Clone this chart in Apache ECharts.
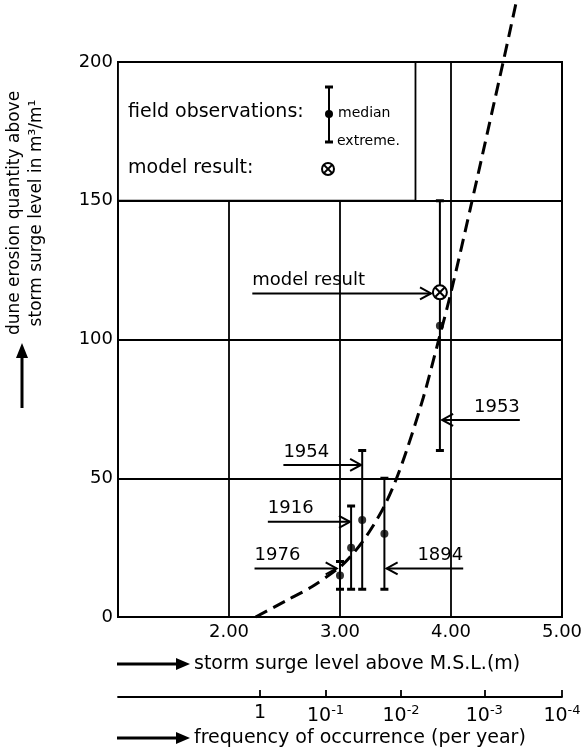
<!DOCTYPE html>
<html>
<head>
<meta charset="utf-8">
<script src="https://cdn.jsdelivr.net/npm/echarts@6/dist/echarts.min.js"></script>
<style>
html, body { margin: 0; padding: 0; background: #fff; }
#chart { width: 585px; height: 750px; }
</style>
</head>
<body>
<div id="chart"></div>
<script>
// dune erosion quantity vs storm surge level
const FONT = 'DejaVu Sans';

// dashed curve
const curveSurge = [2.24, 2.52, 2.75, 3.0, 3.1, 3.2, 3.3, 3.4, 3.5, 3.6, 3.75, 3.89, 4.0, 4.19, 4.47, 4.59];
const curveErosion = [0, 6, 11, 18, 22, 27, 33, 40, 49, 60, 79, 100, 117, 150, 200, 222];

// field observations: median and extremes
const obsYears = ['1976', '1916', '1954', '1894', '1953'];
const obsSurge = [3.0, 3.1, 3.2, 3.4, 3.9];
const obsLow = [10, 10, 10, 10, 60];
const obsMedian = [15, 25, 35, 30, 105];
const obsHigh = [20, 40, 60, 50, 150];

// model result
const modelSurge = [3.9];
const modelErosion = [117];

// second scale: frequency of occurrence, located on the surge level axis
const freqSurge = [2.28, 2.87, 3.55, 4.30, 5.0];
const freqLabels = ['{n|1}', '{n|10}{s|-1}', '{n|10}{s|-2}', '{n|10}{s|-3}', '{n|10}{s|-4}'];

// call-out arrows: label, arrow tip (surge, erosion), tail surge
const noteLabels = ['model result', '1953', '1954', '1916', '1976', '1894'];
const noteTipX = [3.82, 3.92, 3.19, 3.09, 2.97, 3.42];
const noteTipY = [116.6, 71, 54.8, 34.3, 17.5, 17.5];
const noteTailX = [2.21, 4.62, 2.49, 2.35, 2.23, 4.11];

// legend box corners (surge, erosion)
const legendBox = [[1, 200, 3.68, 150]];

const myChart = echarts.init(document.getElementById('chart'));

const option = {
  backgroundColor: '#fff',
  animation: false,
  textStyle: { fontFamily: FONT, color: '#000' },
  grid: {
    left: 118, right: 23, top: 62, bottom: 133,
    show: true, borderColor: '#000', borderWidth: 2,
    outerBoundsMode: 'none'
  },
  xAxis: [
    {
      type: 'value', min: 1, max: 5, interval: 1,
      axisLine: { show: true, lineStyle: { color: '#000', width: 2 } },
      axisTick: { show: false },
      splitLine: { show: true, lineStyle: { color: '#000', width: 1.8 } },
      axisLabel: {
        color: '#000', fontSize: 18, fontFamily: FONT, margin: 6,
        formatter: v => (v === 1 ? '' : v.toFixed(2))
      }
    },
    {
      type: 'value', min: 1, max: 5, position: 'bottom', offset: 80,
      axisLine: { show: true, onZero: false, lineStyle: { color: '#000', width: 1.8 } },
      axisTick: { show: true, inside: true, length: 7, customValues: freqSurge, lineStyle: { color: '#000', width: 1.8 } },
      splitLine: { show: false },
      axisLabel: {
        color: '#000', fontSize: 19, fontFamily: FONT, margin: 7,
        customValues: freqSurge,
        formatter: v => {
          const i = freqSurge.findIndex(p => Math.abs(p - v) < 1e-6);
          return i < 0 ? '' : freqLabels[i];
        },
        rich: {
          n: { fontSize: 19, fontFamily: FONT, color: '#000' },
          s: { fontSize: 13, fontFamily: FONT, color: '#000', verticalAlign: 'top', padding: [0, 0, 11, 0] }
        }
      }
    }
  ],
  yAxis: {
    type: 'value', min: 0, max: 200, interval: 50,
    axisLine: { show: true, lineStyle: { color: '#000', width: 2 } },
    axisTick: { show: false },
    splitLine: { show: true, lineStyle: { color: '#000', width: 1.8 } },
    axisLabel: { color: '#000', fontSize: 18, fontFamily: FONT, margin: 5 }
  },
  graphic: [
    {
      type: 'text', x: 26, y: 213, rotation: Math.PI / 2,
      style: {
        text: 'dune erosion quantity above\nstorm surge level in m³/m¹',
        font: '17px ' + FONT, fill: '#000', align: 'center', verticalAlign: 'middle', lineHeight: 22
      }
    },
    { type: 'line', shape: { x1: 22, y1: 408, x2: 22, y2: 354 }, style: { stroke: '#000', lineWidth: 3 } },
    { type: 'polygon', shape: { points: [[16, 358], [22, 343], [28, 358]] }, style: { fill: '#000' } },
    { type: 'line', shape: { x1: 117, y1: 664, x2: 180, y2: 664 }, style: { stroke: '#000', lineWidth: 3 } },
    { type: 'polygon', shape: { points: [[176, 658], [190, 664], [176, 670]] }, style: { fill: '#000' } },
    {
      type: 'text', x: 194, y: 664,
      style: { text: 'storm surge level above M.S.L.(m)', font: '19px ' + FONT, fill: '#000', verticalAlign: 'middle' }
    },
    { type: 'line', shape: { x1: 117, y1: 738, x2: 180, y2: 738 }, style: { stroke: '#000', lineWidth: 3 } },
    { type: 'polygon', shape: { points: [[176, 732], [190, 738], [176, 744]] }, style: { fill: '#000' } },
    {
      type: 'text', x: 194, y: 738,
      style: { text: 'frequency of occurrence (per year)', font: '19px ' + FONT, fill: '#000', verticalAlign: 'middle' }
    }
  ],
  series: [
    {
      // legend box
      type: 'custom', z: 3,
      data: legendBox,
      renderItem: (params, api) => {
        const p0 = api.coord([api.value(0), api.value(1)]);
        const p1 = api.coord([api.value(2), api.value(3)]);
        const x = p0[0], y = p0[1];
        const bx = x + 211;
        return {
          type: 'group',
          children: [
            { type: 'rect', shape: { x: x, y: y, width: p1[0] - x, height: p1[1] - y }, style: { fill: '#fff', stroke: '#000', lineWidth: 1.8 } },
            { type: 'text', x: x + 10, y: y + 50, style: { text: 'field observations:', font: '19px ' + FONT, fill: '#000', verticalAlign: 'middle' } },
            { type: 'line', shape: { x1: bx, y1: y + 25, x2: bx, y2: y + 80 }, style: { stroke: '#000', lineWidth: 2 } },
            { type: 'line', shape: { x1: bx - 4, y1: y + 25, x2: bx + 4, y2: y + 25 }, style: { stroke: '#000', lineWidth: 3 } },
            { type: 'line', shape: { x1: bx - 4, y1: y + 80, x2: bx + 4, y2: y + 80 }, style: { stroke: '#000', lineWidth: 3 } },
            { type: 'circle', shape: { cx: bx, cy: y + 52, r: 4 }, style: { fill: '#000' } },
            { type: 'text', x: bx + 9, y: y + 51, style: { text: 'median', font: '14px ' + FONT, fill: '#000', verticalAlign: 'middle' } },
            { type: 'text', x: bx + 8, y: y + 79, style: { text: 'extreme.', font: '14px ' + FONT, fill: '#000', verticalAlign: 'middle' } },
            { type: 'text', x: x + 10, y: y + 106, style: { text: 'model result:', font: '19px ' + FONT, fill: '#000', verticalAlign: 'middle' } },
            { type: 'circle', shape: { cx: bx - 1, cy: y + 107, r: 6 }, style: { fill: '#fff', stroke: '#000', lineWidth: 2 } },
            { type: 'line', shape: { x1: bx - 5, y1: y + 103, x2: bx + 3, y2: y + 111 }, style: { stroke: '#000', lineWidth: 1.8 } },
            { type: 'line', shape: { x1: bx - 5, y1: y + 111, x2: bx + 3, y2: y + 103 }, style: { stroke: '#000', lineWidth: 1.8 } }
          ]
        };
      }
    },
    {
      // dashed curve
      type: 'line', z: 4, clip: false, smooth: 0.3, showSymbol: false, symbol: 'none',
      data: curveSurge.map((s, i) => [s, curveErosion[i]]),
      lineStyle: { color: '#000', width: 3, type: [13, 7] }
    },
    {
      // error bars (extremes)
      type: 'custom', z: 5,
      data: obsSurge.map((s, i) => [s, obsLow[i], obsHigh[i]]),
      renderItem: (params, api) => {
        const s = api.value(0);
        const lo = api.coord([s, api.value(1)]);
        const hi = api.coord([s, api.value(2)]);
        const cap = 4;
        return {
          type: 'group',
          children: [
            { type: 'line', shape: { x1: lo[0], y1: lo[1], x2: hi[0], y2: hi[1] }, style: { stroke: '#000', lineWidth: 2 } },
            { type: 'line', shape: { x1: lo[0] - cap, y1: lo[1], x2: lo[0] + cap, y2: lo[1] }, style: { stroke: '#000', lineWidth: 3 } },
            { type: 'line', shape: { x1: hi[0] - cap, y1: hi[1], x2: hi[0] + cap, y2: hi[1] }, style: { stroke: '#000', lineWidth: 3 } }
          ]
        };
      }
    },
    {
      // medians
      type: 'scatter', z: 6, symbol: 'circle', symbolSize: 8,
      itemStyle: { color: '#000' },
      data: obsSurge.map((s, i) => [s, obsMedian[i]])
    },
    {
      // model result
      type: 'custom', z: 7,
      data: modelSurge.map((s, i) => [s, modelErosion[i]]),
      renderItem: (params, api) => {
        const p = api.coord([api.value(0), api.value(1)]);
        const r = 7, d = 4.5;
        return {
          type: 'group',
          children: [
            { type: 'circle', shape: { cx: p[0], cy: p[1], r: r }, style: { fill: '#fff', stroke: '#000', lineWidth: 2 } },
            { type: 'line', shape: { x1: p[0] - d, y1: p[1] - d, x2: p[0] + d, y2: p[1] + d }, style: { stroke: '#000', lineWidth: 2 } },
            { type: 'line', shape: { x1: p[0] - d, y1: p[1] + d, x2: p[0] + d, y2: p[1] - d }, style: { stroke: '#000', lineWidth: 2 } }
          ]
        };
      }
    },
    {
      // call-out arrows with labels
      type: 'custom', z: 8,
      data: noteTipX.map((s, i) => [s, noteTipY[i], noteTailX[i]]),
      renderItem: (params, api) => {
        const tip = api.coord([api.value(0), api.value(1)]);
        const tail = api.coord([api.value(2), api.value(1)]);
        const dir = tip[0] > tail[0] ? 1 : -1;
        const head = 11;
        return {
          type: 'group',
          children: [
            { type: 'line', shape: { x1: tail[0], y1: tail[1], x2: tip[0], y2: tip[1] }, style: { stroke: '#000', lineWidth: 2 } },
            {
              type: 'polyline',
              shape: { points: [[tip[0] - dir * head, tip[1] - 6], [tip[0], tip[1]], [tip[0] - dir * head, tip[1] + 6]] },
              style: { stroke: '#000', lineWidth: 2, fill: null }
            },
            {
              type: 'text', x: tail[0], y: tail[1] - 13,
              style: {
                text: noteLabels[params.dataIndex], font: '18px ' + FONT, fill: '#000',
                align: dir > 0 ? 'left' : 'right', verticalAlign: 'middle'
              }
            }
          ]
        };
      }
    }
  ]
};

myChart.setOption(option);
</script>
</body>
</html>
